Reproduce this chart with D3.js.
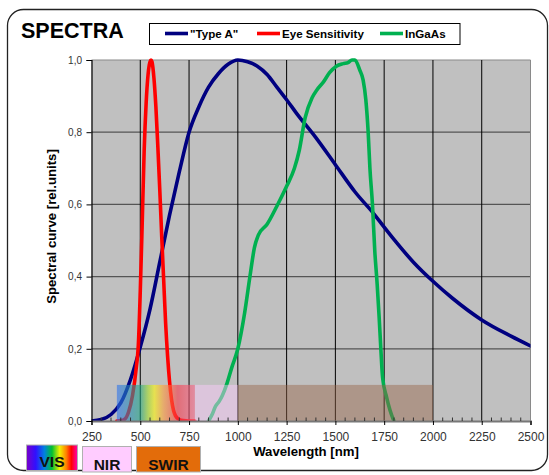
<!DOCTYPE html>
<html>
<head>
<meta charset="utf-8">
<script src="https://cdn.jsdelivr.net/npm/d3@7"></script>
<style>
  html, body { margin: 0; padding: 0; background: #ffffff; }
  svg { display: block; font-family: Arial, "Liberation Sans", sans-serif; }
</style>
</head>
<body>
<svg id="chart" width="549" height="475"></svg>
<script>
// ---------- DATA ----------
const xTicks = [250, 500, 750, 1000, 1250, 1500, 1750, 2000, 2250, 2500];
const yTicks = [0, 0.2, 0.4, 0.6, 0.8, 1.0];

const seriesNames = ['"Type A"', "Eye Sensitivity", "InGaAs"];
const seriesColors = ["#000080", "#ff0000", "#00b050"];

const typeAWl  = [250, 300, 350, 400, 450, 500, 550, 600, 650, 700, 750, 800, 850, 900, 950, 1000, 1050, 1100, 1150, 1200, 1250, 1300, 1400, 1500, 1600, 1700, 1750, 1800, 1900, 2000, 2100, 2250, 2400, 2500];
const typeAVal = [0.0, 0.004, 0.018, 0.05, 0.115, 0.205, 0.31, 0.44, 0.57, 0.69, 0.80, 0.87, 0.925, 0.962, 0.988, 1.0, 0.995, 0.983, 0.96, 0.925, 0.89, 0.853, 0.785, 0.71, 0.635, 0.572, 0.537, 0.503, 0.44, 0.387, 0.34, 0.28, 0.235, 0.208];

const eyeWl  = [380, 400, 420, 440, 460, 480, 490, 500, 510, 520, 530, 540, 550, 555, 560, 570, 580, 590, 600, 610, 620, 630, 640, 650, 660, 670, 680, 700, 720, 750, 780];
const eyeVal = [0.0, 0.001, 0.005, 0.025, 0.07, 0.15, 0.21, 0.36, 0.55, 0.75, 0.88, 0.96, 0.995, 1.0, 0.995, 0.95, 0.87, 0.76, 0.64, 0.51, 0.39, 0.27, 0.18, 0.11, 0.06, 0.03, 0.015, 0.004, 0.001, 0.0, 0.0];

const ingaasWl  = [850, 870, 885, 905, 920, 945, 970, 1000, 1035, 1062, 1085, 1105, 1150, 1200, 1250, 1290, 1315, 1345, 1380, 1405, 1440, 1470, 1505, 1540, 1565, 1585, 1600, 1625, 1642, 1656, 1668, 1677, 1690, 1702, 1714, 1724, 1733, 1742, 1762, 1780, 1800];
const ingaasVal = [0.0, 0.02, 0.04, 0.055, 0.07, 0.105, 0.15, 0.2, 0.3, 0.4, 0.48, 0.515, 0.545, 0.595, 0.65, 0.70, 0.75, 0.84, 0.895, 0.917, 0.94, 0.965, 0.983, 0.99, 0.993, 1.0, 1.0, 0.972, 0.945, 0.89, 0.80, 0.70, 0.60, 0.47, 0.38, 0.29, 0.20, 0.12, 0.067, 0.03, 0.0];

const bandNames = ["VIS", "NIR", "SWIR"];
const bandStart = [380, 780, 1000];
const bandEnd   = [780, 1000, 2000];
const bandTop   = [0.1, 0.1, 0.1];

// ---------- SETUP ----------
const svg = d3.select("#chart");
const W = 549, H = 475;
const L = 91.5, R = 530.5, T = 60, B = 421;

const x = d3.scaleLinear().domain([250, 2500]).range([L, R]);
const y = d3.scaleLinear().domain([0, 1]).range([B, T]);

const defs = svg.append("defs");

// VIS band gradient (semi-transparent rainbow)
const visBand = defs.append("linearGradient").attr("id", "visBand")
  .attr("x1", "0%").attr("x2", "100%").attr("y1", "0%").attr("y2", "0%");
[[0, "#2f72ef"], [0.3, "#1ea482"], [0.4, "#a4de27"], [0.48, "#fff705"], [0.6, "#ff9b37"], [0.78, "#f73748"], [1, "#f7698b"]]
  .forEach(([o, c]) => visBand.append("stop").attr("offset", o).attr("stop-color", c));

// VIS legend box gradient
const visBox = defs.append("linearGradient").attr("id", "visBox")
  .attr("x1", "0%").attr("x2", "100%").attr("y1", "0%").attr("y2", "0%");
[[0, "#7a00c8"], [0.18, "#3010ff"], [0.35, "#0080e0"], [0.5, "#00c030"], [0.65, "#f0f000"], [0.78, "#ff8000"], [0.88, "#ff0000"], [1, "#ff00b0"]]
  .forEach(([o, c]) => visBox.append("stop").attr("offset", o).attr("stop-color", c));

defs.append("clipPath").attr("id", "plotClip")
  .append("rect").attr("x", L).attr("y", T - 4).attr("width", R - L).attr("height", B - T + 4);

// Outer rounded frame
svg.append("rect")
  .attr("x", 7.5).attr("y", 9.5).attr("width", 540).attr("height", 461)
  .attr("rx", 16).attr("ry", 16)
  .attr("fill", "#ffffff").attr("stroke", "#222").attr("stroke-width", 1.3);

// Plot background
svg.append("rect")
  .attr("x", L).attr("y", T).attr("width", R - L).attr("height", B - T)
  .attr("fill", "#c0c0c0");

// Horizontal gridlines
svg.append("g").selectAll("line").data(yTicks.filter(d => d > 0)).join("line")
  .attr("x1", L).attr("x2", R)
  .attr("y1", d => y(d)).attr("y2", d => y(d))
  .attr("stroke", d => d === 1 ? "#8a8a8a" : "#555")
  .attr("stroke-width", 1.2);

// Vertical gridlines
svg.append("g").selectAll("line").data(xTicks.filter(d => d > 250)).join("line")
  .attr("x1", d => x(d)).attr("x2", d => x(d))
  .attr("y1", T).attr("y2", B)
  .attr("stroke", d => d === 2500 ? "#8a8a8a" : "#000")
  .attr("stroke-width", 1);

// Curves
const line = d3.line().x(d => x(d[0])).y(d => y(d[1])).curve(d3.curveMonotoneX);
const seriesData = [
  d3.zip(typeAWl, typeAVal),
  d3.zip(eyeWl, eyeVal),
  d3.zip(ingaasWl, ingaasVal)
];
const curves = svg.append("g").attr("clip-path", "url(#plotClip)");
seriesData.forEach((data, i) => {
  curves.append("path").datum(data)
    .attr("d", line)
    .attr("fill", "none")
    .attr("stroke", seriesColors[i])
    .attr("stroke-width", 3.6)
    .attr("stroke-linejoin", "round")
    .attr("stroke-linecap", "round");
});

// Spectral bands (semi-transparent overlay)
const bandFill = ["url(#visBand)", "#ffccff", "#966446"];
const bandOpacity = [0.6, 0.45, 0.45];
svg.append("g").selectAll("rect").data(bandNames).join("rect")
  .attr("x", (d, i) => x(bandStart[i]))
  .attr("width", (d, i) => x(bandEnd[i]) - x(bandStart[i]))
  .attr("y", (d, i) => y(bandTop[i]))
  .attr("height", (d, i) => y(0) - y(bandTop[i]))
  .attr("fill", (d, i) => bandFill[i])
  .attr("opacity", (d, i) => bandOpacity[i]);

// X axis
const xAxis = svg.append("g").attr("transform", `translate(0,${B})`)
  .call(d3.axisBottom(x).tickValues(xTicks).tickSize(4).tickPadding(7).tickFormat(d3.format("d")));
xAxis.select(".domain").attr("stroke", "#777").attr("stroke-width", 2);
xAxis.selectAll(".tick line").attr("stroke", "#000");
xAxis.selectAll(".tick text").attr("fill", "#333").attr("font-size", 12)
  .attr("font-family", 'Arial, "Liberation Sans", sans-serif');
// minor ticks
svg.append("g").selectAll("line").data(d3.range(300, 2500, 50).filter(d => d % 250 !== 0)).join("line")
  .attr("x1", d => x(d)).attr("x2", d => x(d))
  .attr("y1", B - 3.5).attr("y2", B)
  .attr("stroke", "#333").attr("stroke-width", 1);

// Y axis
const yAxis = svg.append("g").attr("transform", `translate(${L},0)`)
  .call(d3.axisLeft(y).tickValues(yTicks).tickSize(5).tickPadding(4.5)
    .tickFormat(d => d.toFixed(1).replace(".", ",")));
yAxis.select(".domain").attr("stroke", "#000").attr("stroke-width", 1.2);
yAxis.selectAll(".tick line").attr("stroke", "#000");
yAxis.selectAll(".tick text").attr("fill", "#333").attr("font-size", 10)
  .attr("font-family", 'Arial, "Liberation Sans", sans-serif');

// Axis titles
svg.append("text")
  .attr("x", (L + R) / 2 - 5).attr("y", 455.5)
  .attr("text-anchor", "middle")
  .attr("font-size", 13.2).attr("font-weight", "bold").attr("fill", "#000")
  .text("Wavelength [nm]");

svg.append("text")
  .attr("transform", "translate(56,226.5) rotate(-90)")
  .attr("text-anchor", "middle")
  .attr("font-size", 13.2).attr("font-weight", "bold").attr("fill", "#000")
  .text("Spectral curve [rel.units]");

// Title
svg.append("text")
  .attr("x", 21).attr("y", 37.5)
  .attr("font-size", 21.5).attr("font-weight", "bold").attr("fill", "#000")
  .text("SPECTRA");

// Legend
const lg = svg.append("g");
lg.append("rect").attr("x", 149.5).attr("y", 23.5).attr("width", 310.5).attr("height", 21)
  .attr("fill", "#fff").attr("stroke", "#000").attr("stroke-width", 1);
const legendX = [165, 257, 380];
seriesNames.forEach((name, i) => {
  lg.append("line")
    .attr("x1", legendX[i]).attr("x2", legendX[i] + 23)
    .attr("y1", 33.5).attr("y2", 33.5)
    .attr("stroke", seriesColors[i]).attr("stroke-width", 3.6);
  lg.append("text")
    .attr("x", legendX[i] + 25).attr("y", 37.6)
    .attr("font-size", 11.6).attr("font-weight", "bold").attr("fill", "#000")
    .text(name);
});

// Band legend boxes
const boxX = [26.5, 82.5, 136.5];
const boxW = [51, 49, 64];
const boxY = [445, 446.5, 446.5];
const boxFill = ["url(#visBox)", "#ffccff", "#e36c0a"];
const boxTextY = [466.5, 469.5, 470];
const bx = svg.append("g");
bandNames.forEach((name, i) => {
  bx.append("rect")
    .attr("x", boxX[i]).attr("y", boxY[i]).attr("width", boxW[i]).attr("height", 25.5)
    .attr("fill", boxFill[i]).attr("stroke", "#b0b0b0").attr("stroke-width", 1);
  bx.append("text")
    .attr("x", boxX[i] + boxW[i] / 2).attr("y", boxTextY[i])
    .attr("text-anchor", "middle")
    .attr("font-size", 15.5).attr("font-weight", "bold").attr("fill", "#111")
    .text(name);
});
</script>
</body>
</html>
